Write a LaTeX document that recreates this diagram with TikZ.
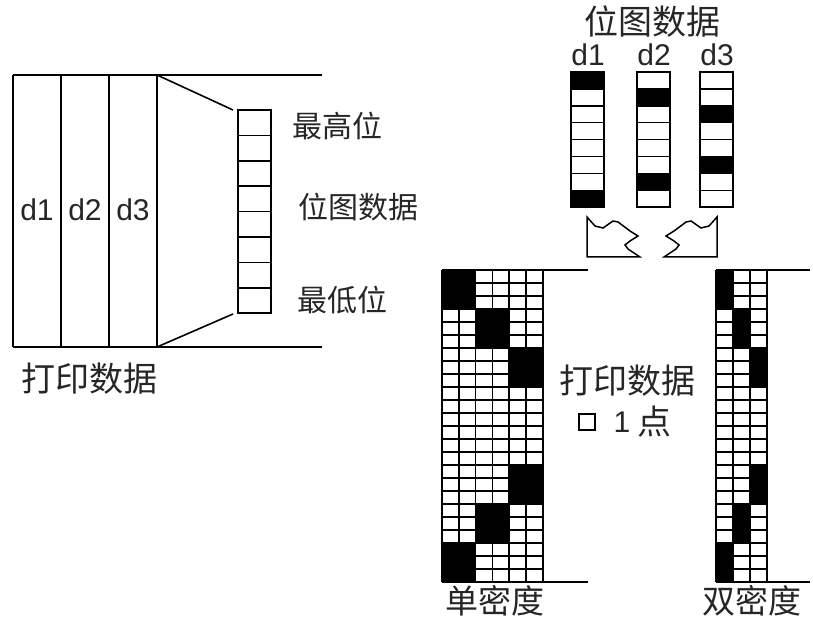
\documentclass[tikz,border=0pt]{standalone}
\usepackage{fontspec}
\setmainfont{Liberation Sans}
\newfontfamily\cjk{Noto Sans CJK SC}
\usetikzlibrary{positioning}

\tikzset{
  zh/.style={font=\cjk\fontsize{17}{19}\selectfont, text=black!85, inner sep=0pt},
  zhs/.style={zh, font=\cjk\fontsize{15}{17}\selectfont},
  dlbl/.style={font=\fontsize{15}{17}\selectfont, text=black!85, inner sep=0pt},
  thin/.style={line width=0.75pt}
}

\begin{document}
\begin{tikzpicture}[x=0.5pt, y=-0.5pt, line width=0.8pt]
   \useasboundingbox (0,0) rectangle (813,619);

   % print data band
   \coordinate (ptl) at (13,75);
   \coordinate (pbl) at (13,347);
   \coordinate (ptr) at (322,75);
   \coordinate (pbr) at (322,347);
   \coordinate (ctop) at (157,75);
   \coordinate (cbot) at (157,347);
   \coordinate (hi) at (233,110);
   \coordinate (lo) at (233,314);

   \path[-]
      (ptl) edge (ptr)
      (pbl) edge (pbr)
      (ptl) edge (pbl)
      (ctop) edge (cbot)
      (ctop) edge (hi)
      (cbot) edge (lo);
   \draw[line width=1.3pt] (61,75) -- (61,347);
   \draw (109,75) -- (109,347);

   \node[dlbl, name=a1] at (37,210) {d1};
   \node[dlbl, name=a2] at (85,210) {d2};
   \node[dlbl, name=a3] at (133,210) {d3};
   \node[zh, name=pd] [anchor=west] at (21,379) {打印数据};

   % bit column
   \foreach \i in {0,...,7}
      \draw[thin] (238,{110+\i*25.4}) rectangle +(33,25.4);
   \node[zhs, anchor=west, name=msb] at (292,126) {最高位};
   \node[zhs, anchor=west, name=bd] at (298,207) {位图数据};
   \node[zhs, anchor=west, name=lsb] at (297,300) {最低位};

   % bitmap columns d1 d2 d3
   \node[zh, name=bmp] at (652,22) {位图数据};
   \foreach \cx/\ba/\bb [count=\k] in {571/0/7, 637/1/6, 700/2/5} {
      \fill ({\cx},{72+\ba*16.9}) rectangle +(33,16.9);
      \fill ({\cx},{72+\bb*16.9}) rectangle +(33,16.9);
      \foreach \i in {0,...,7}
         \draw[thin] ({\cx},{72+\i*16.9}) rectangle +(33,16.9);
      \node[dlbl, name=b\k] at ({\cx+17},55) {d\k};
   }

   % turn marks
   \draw[thin] (587,217) -- (595,226) -- (603,228) -- (613,221) -- (618,222)
      -- (630,231) -- (638,236) -- (630,241) -- (625,245) -- (628,249)
      -- (640,257) -- (587,257) -- cycle;
   \draw[thin] (717,217) -- (709,226) -- (701,228) -- (691,221) -- (686,222)
      -- (674,231) -- (666,236) -- (674,241) -- (679,245) -- (676,249)
      -- (664,257) -- (717,257) -- cycle;

   % single density
   \foreach \c/\r in {0/0, 2/3, 4/6, 4/15, 2/18, 0/21}
      \fill ({442+16.8*\c},{270+13*\r}) rectangle +(33.6,39);
   \foreach \r in {0,...,24}
      \draw[thin] (442,{270+13*\r}) -- (543,{270+13*\r});
   \foreach \c in {0,...,6}
      \draw[thin] ({442+16.8*\c},270) -- ({442+16.8*\c},582);
   \coordinate (s1) at (543,270);
   \coordinate (s2) at (588,270);
   \coordinate (s3) at (543,582);
   \coordinate (s4) at (588,582);
   \path[-] (s1) edge (s2) (s3) edge (s4);
   \node[zh, font=\cjk\fontsize{16.5}{18}\selectfont, name=sd] at (495,601) {单密度};

   % double density
   \foreach \c/\r in {0/0, 1/3, 2/6, 2/15, 1/18, 0/21}
      \fill ({716+17*\c},{270+13*\r}) rectangle +(17,39);
   \foreach \r in {0,...,24}
      \draw[thin] (716,{270+13*\r}) -- (767,{270+13*\r});
   \foreach \c in {0,...,3}
      \draw[thin] ({716+17*\c},270) -- ({716+17*\c},582);
   \coordinate (t1) at (767,270);
   \coordinate (t2) at (810,270);
   \coordinate (t3) at (767,582);
   \coordinate (t4) at (810,582);
   \path[-] (t1) edge (t2) (t3) edge (t4);
   \node[zh, font=\cjk\fontsize{16.5}{18}\selectfont, name=dd] at (752,601) {双密度};

   % legend
   \node[zh, name=pd2] at (627,381) {打印数据};
   \node[draw, thin, minimum size=8pt, inner sep=0pt, name=dot] at (587,422) {};
   \node[dlbl, name=one] at (622,422) {1};
   \node[zh, name=pt] at (654,422) {点};
\end{tikzpicture}
\end{document}
